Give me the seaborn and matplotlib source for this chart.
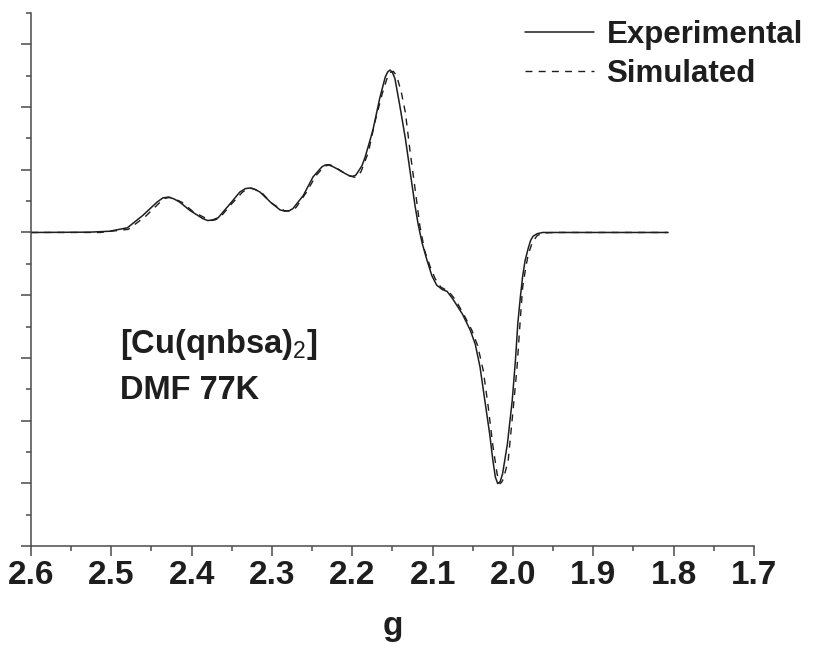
import matplotlib
matplotlib.use("Agg")
import matplotlib.pyplot as plt
import seaborn as sns
import numpy as np
import pandas as pd
from matplotlib.ticker import MultipleLocator, FixedLocator, NullFormatter

# ---- data ----
exp_g = [2.600, 2.527, 2.502, 2.480, 2.461, 2.443, 2.436, 2.429, 2.422, 2.415,
         2.402, 2.386, 2.380, 2.374, 2.367, 2.352, 2.340, 2.333, 2.327, 2.321,
         2.315, 2.302, 2.290, 2.284, 2.279, 2.274, 2.261, 2.249, 2.238, 2.234,
         2.230, 2.225, 2.219, 2.209, 2.203, 2.200, 2.196, 2.193, 2.188, 2.184,
         2.178, 2.174, 2.166, 2.159, 2.156, 2.153, 2.150, 2.147, 2.141, 2.134,
         2.128, 2.122, 2.118, 2.113, 2.107, 2.101, 2.095, 2.088, 2.082, 2.075,
         2.063, 2.053, 2.047, 2.041, 2.035, 2.029, 2.025, 2.022, 2.019, 2.016,
         2.013, 2.007, 2.001, 1.997, 1.994, 1.991, 1.988, 1.985, 1.981, 1.978,
         1.975, 1.970, 1.963, 1.807]
exp_y = [0.00, 0.01, 0.04, 0.15, 0.54, 0.97, 1.10, 1.13, 1.07, 0.97,
         0.70, 0.44, 0.38, 0.40, 0.47, 0.92, 1.29, 1.40, 1.42, 1.37,
         1.29, 0.97, 0.72, 0.68, 0.69, 0.76, 1.18, 1.77, 2.09, 2.15,
         2.16, 2.11, 2.03, 1.88, 1.80, 1.79, 1.82, 1.93, 2.13, 2.41,
         2.94, 3.31, 4.27, 4.96, 5.12, 5.18, 5.10, 4.91, 4.06, 3.00,
         1.93, 0.86, 0.25, -0.35, -0.89, -1.38, -1.68, -1.82, -1.88, -2.12,
         -2.60, -3.13, -3.56, -4.30, -5.37, -6.43, -7.28, -7.80, -8.01, -7.95,
         -7.70, -6.75, -5.37, -4.09, -2.90, -2.10, -1.40, -0.90, -0.50, -0.25,
         -0.12, -0.04, 0.00, 0.00]

sim_g = [2.600, 2.514, 2.479, 2.458, 2.440, 2.433, 2.427, 2.420, 2.412, 2.398,
         2.377, 2.371, 2.365, 2.350, 2.337, 2.331, 2.325, 2.319, 2.312, 2.300,
         2.285, 2.279, 2.274, 2.270, 2.258, 2.245, 2.235, 2.228, 2.222, 2.217,
         2.205, 2.197, 2.193, 2.189, 2.180, 2.172, 2.163, 2.156, 2.153, 2.149,
         2.146, 2.144, 2.139, 2.134, 2.128, 2.122, 2.116, 2.110, 2.103, 2.097,
         2.090, 2.080, 2.071, 2.060, 2.051, 2.044, 2.037, 2.031, 2.025, 2.020,
         2.018, 2.016, 2.014, 2.012, 2.006, 2.000, 1.995, 1.991, 1.988, 1.984,
         1.981, 1.976, 1.970, 1.963, 1.948, 1.807]
sim_y = [0.00, 0.00, 0.10, 0.50, 0.95, 1.09, 1.12, 1.06, 0.96, 0.66,
         0.38, 0.40, 0.47, 0.92, 1.28, 1.39, 1.41, 1.35, 1.25, 0.92,
         0.70, 0.68, 0.72, 0.80, 1.25, 1.82, 2.11, 2.16, 2.10, 2.01,
         1.82, 1.76, 1.80, 1.95, 2.56, 3.51, 4.41, 4.98, 5.10, 5.14,
         5.04, 4.92, 4.47, 3.83, 2.56, 1.41, 0.22, -0.58, -1.10, -1.47,
         -1.74, -1.88, -2.17, -2.68, -3.13, -3.61, -4.41, -5.53, -6.81, -7.67,
         -7.92, -8.01, -7.96, -7.86, -7.28, -5.69, -4.31, -2.80, -1.75, -1.10,
         -0.70, -0.32, -0.10, -0.02, 0.00, 0.00]

series_labels = ["Experimental", "Simulated"]
x_ticks = [2.6, 2.5, 2.4, 2.3, 2.2, 2.1, 2.0, 1.9, 1.8, 1.7]
x_ticklabels = ["2.6", "2.5", "2.4", "2.3", "2.2", "2.1", "2.0", "1.9", "1.8", "1.7"]
x_label = "g"
annotation_lines = ["[Cu(qnbsa)$_\\mathrm{2}$]", "DMF 77K"]

# ---- style ----
sns.set_style("ticks")
plt.rcParams["font.family"] = ["Liberation Sans", "DejaVu Sans"]
plt.rcParams["mathtext.fontset"] = "custom"
plt.rcParams["mathtext.rm"] = "Liberation Sans"
plt.rcParams["mathtext.bf"] = "Liberation Sans:bold"

ink = "#1e1e1e"
spine_c = "#4a4a4a"

fig = plt.figure(figsize=(8.22, 6.49), dpi=100)
ax = fig.add_axes([31/822, 1 - 546/649, (754 - 31)/822, (546 - 13)/649])

df_exp = pd.DataFrame({"g": exp_g, "y": exp_y})
df_sim = pd.DataFrame({"g": sim_g, "y": sim_y})
sns.lineplot(data=df_exp, x="g", y="y", ax=ax, sort=False, estimator=None,
             color=ink, linewidth=1.1, label=series_labels[0])
sns.lineplot(data=df_sim, x="g", y="y", ax=ax, sort=False, estimator=None,
             color=ink, linewidth=1.0, linestyle=(0, (5, 4.5)), label=series_labels[1])

ax.set_xlim(2.6, 1.7)
ax.set_ylim(-10, 7)

ax.xaxis.set_major_locator(FixedLocator(x_ticks))
ax.set_xticklabels(x_ticklabels)
ax.xaxis.set_minor_locator(MultipleLocator(0.05))
ax.yaxis.set_major_locator(MultipleLocator(2))
ax.yaxis.set_minor_locator(MultipleLocator(1))
ax.yaxis.set_major_formatter(NullFormatter())
ax.set_ylabel("")

for s in ["top", "right"]:
    ax.spines[s].set_visible(False)
for s in ["left", "bottom"]:
    ax.spines[s].set_color(spine_c)
    ax.spines[s].set_linewidth(1.1)

ax.tick_params(which="major", direction="out", length=7.4, width=1.1, color=spine_c)
ax.tick_params(which="minor", direction="out", length=3.8, width=1.1, color=spine_c)
ax.tick_params(axis="x", which="major", labelsize=24, pad=3, labelcolor=ink)
for lab in ax.get_xticklabels():
    lab.set_fontweight("bold")

ax.set_xlabel(x_label, fontsize=24, fontweight="bold", color=ink, labelpad=14)

fig.text(120/822, 1 - 344/649, annotation_lines[0], fontsize=23.5, fontweight="bold",
         color=ink, va="center", ha="left")
fig.text(120/822, 1 - 390/649, annotation_lines[1], fontsize=23.5, fontweight="bold",
         color=ink, va="center", ha="left")

leg = ax.legend(loc="upper left", bbox_to_anchor=(519/822, 1 - 14/649),
                bbox_transform=fig.transFigure, frameon=False,
                prop={"family": "Liberation Sans", "weight": "bold", "size": 22.5},
                handlelength=2.2, handletextpad=0.4, labelspacing=0.28,
                borderpad=0.2, borderaxespad=0)
for t in leg.get_texts():
    t.set_color(ink)

fig.savefig("out.png", dpi=100)
